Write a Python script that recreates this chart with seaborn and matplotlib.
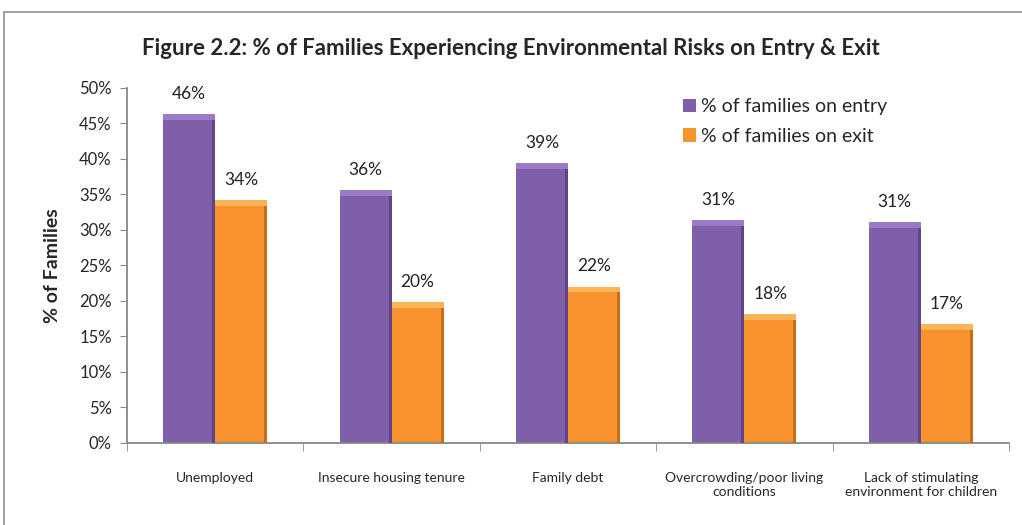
import pandas as pd
import matplotlib.pyplot as plt
import seaborn as sns
from matplotlib.lines import Line2D

# Chart values
categories = ['Unemployed', 'Insecure housing tenure', 'Family debt',
              'Overcrowding/poor living\nconditions',
              'Lack of stimulating\nenvironment for children']
entry_pct = [46.3, 35.6, 39.4, 31.4, 31.1]
exit_pct = [34.2, 19.8, 22.0, 18.1, 16.7]
series_names = ['% of families on entry', '% of families on exit']
y_ticks = [0, 5, 10, 15, 20, 25, 30, 35, 40, 45, 50]

# Long-form table for seaborn
data = pd.DataFrame({
    'category': categories * 2,
    'pct': entry_pct + exit_pct,
    'series': [series_names[0]] * len(categories) + [series_names[1]] * len(categories),
})

sns.set_style('white')
plt.rcParams['font.family'] = ['Lato', 'DejaVu Sans']

fig = plt.figure(figsize=(10.22, 5.25), dpi=100)
ax = fig.add_axes([0.1243, 0.1562, 0.8630, 0.6762])

palette = {series_names[0]: '#7f5fa9', series_names[1]: '#f7922c'}
sns.barplot(data=data, x='category', y='pct', hue='series', order=categories,
            hue_order=series_names, palette=palette, width=0.59, ax=ax,
            saturation=1, edgecolor='none')

# darker right edge / lighter top to hint at the bevel look
edge_dark = {series_names[0]: '#604589', series_names[1]: '#c46f1e'}
top_light = {series_names[0]: '#9b7bc8', series_names[1]: '#fab455'}
for cont, name in zip(ax.containers, series_names):
    for bar in cont:
        x0, w, h = bar.get_x(), bar.get_width(), bar.get_height()
        ax.add_patch(plt.Rectangle((x0 + w * 0.94, 0), w * 0.06, h,
                                   color=edge_dark[name], lw=0, zorder=3))
        ax.add_patch(plt.Rectangle((x0, h - 0.8), w, 0.8,
                                   color=top_light[name], lw=0, zorder=3))
    ax.bar_label(cont, labels=[f'{v:.0f}%' for v in cont.datavalues],
                 padding=9, fontsize=12.5, color='#222222')

ax.set_ylim(0, 50)
ax.set_xlim(-0.5, len(categories) - 0.5)
ax.set_yticks(y_ticks)
ax.set_yticklabels([f'{t}%' for t in y_ticks], fontsize=12)
ax.set_xticks(range(len(categories)))
ax.set_xticklabels(categories, fontsize=10)
ax.set_xticks([i - 0.5 for i in range(len(categories) + 1)], minor=True)
ax.tick_params(axis='x', which='major', length=0, pad=21)
ax.tick_params(axis='x', which='minor', length=6, color='#888888', direction='out')
ax.tick_params(axis='y', length=5, color='#888888', direction='out', pad=6)
ax.tick_params(bottom=True, left=True)
ax.tick_params(axis='x', which='minor', bottom=True)

for side in ['top', 'right']:
    ax.spines[side].set_visible(False)
for side in ['left', 'bottom']:
    ax.spines[side].set_color('#888888')
    ax.spines[side].set_linewidth(1.3)

ax.set_xlabel('')
ax.set_ylabel('% of Families', fontsize=14, fontweight='bold', labelpad=13)

leg = ax.legend(loc='upper left', bbox_to_anchor=(0.61, 1.02), frameon=False,
                fontsize=14, handlelength=0.7, handleheight=0.7,
                handletextpad=0.25, labelspacing=0.65)

fig.suptitle('Figure 2.2: % of Families Experiencing Environmental Risks on Entry & Exit',
             x=0.5, y=0.928, fontsize=16, fontweight='bold')

# chart frame (top and left edges visible in the reference)
fig.add_artist(Line2D([4 / 1022, 4 / 1022], [0, 1 - 12 / 525], color='#999999', lw=1.3))
fig.add_artist(Line2D([4 / 1022, 1], [1 - 12 / 525, 1 - 12 / 525], color='#999999', lw=1.3))

fig.savefig('out.png', dpi=100)
